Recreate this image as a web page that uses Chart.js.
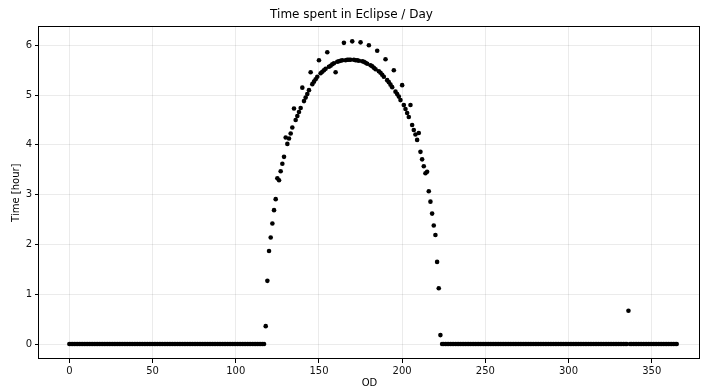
<!DOCTYPE html>
<html>
<head>
<meta charset="utf-8">
<script src="https://cdn.jsdelivr.net/npm/chart.js@4/dist/chart.umd.min.js"></script>
<style>
  html, body { margin: 0; padding: 0; background: #fff; }
  canvas { display: block; }
</style>
</head>
<body>
<canvas id="myChart" width="704" height="391"></canvas>
<script>
// day 0 .. 365, hours in eclipse per day
const firstDay = 0
const eclipseHours = [
  0, 0, 0, 0, 0, 0, 0, 0, 0, 0, 0, 0, 0, 0, 0, 0, 0, 0, 0, 0,
  0, 0, 0, 0, 0, 0, 0, 0, 0, 0, 0, 0, 0, 0, 0, 0, 0, 0, 0, 0,
  0, 0, 0, 0, 0, 0, 0, 0, 0, 0, 0, 0, 0, 0, 0, 0, 0, 0, 0, 0,
  0, 0, 0, 0, 0, 0, 0, 0, 0, 0, 0, 0, 0, 0, 0, 0, 0, 0, 0, 0,
  0, 0, 0, 0, 0, 0, 0, 0, 0, 0, 0, 0, 0, 0, 0, 0, 0, 0, 0, 0,
  0, 0, 0, 0, 0, 0, 0, 0, 0, 0, 0, 0, 0, 0, 0, 0, 0, 0,
  // 118 - 223: eclipse season
  0.36, 1.27, 1.87, 2.14, 2.42, 2.69, 2.91, 3.33, 3.29, 3.47,
  3.62, 3.76, 4.15, 4.02, 4.13, 4.23, 4.35, 4.73, 4.50, 4.58,
  4.66, 4.74, 5.15, 4.88, 4.95, 5.02, 5.10, 5.46, 5.22, 5.27,
  5.32, 5.37, 5.70, 5.44, 5.47, 5.50, 5.53, 5.86, 5.57, 5.59,
  5.62, 5.64, 5.46, 5.67, 5.68, 5.69, 5.70, 6.05, 5.70, 5.71,
  5.71, 5.71, 6.08, 5.71, 5.70, 5.70, 5.69, 6.06, 5.68, 5.67,
  5.65, 5.63, 6.00, 5.60, 5.58, 5.55, 5.52, 5.89, 5.48, 5.45,
  5.41, 5.37, 5.72, 5.30, 5.26, 5.21, 5.16, 5.50, 5.07, 5.02,
  4.97, 4.90, 5.20, 4.80, 4.72, 4.64, 4.56, 4.80, 4.40, 4.30,
  4.21, 4.10, 4.24, 3.86, 3.71, 3.57, 3.43, 3.46, 3.07, 2.86,
  2.62, 2.38, 2.19, 1.65, 1.12, 0.18,
  // 224 - 365
  0, 0, 0, 0, 0, 0, 0, 0, 0, 0, 0, 0, 0, 0, 0, 0, 0, 0, 0, 0,
  0, 0, 0, 0, 0, 0, 0, 0, 0, 0, 0, 0, 0, 0, 0, 0, 0, 0, 0, 0,
  0, 0, 0, 0, 0, 0, 0, 0, 0, 0, 0, 0, 0, 0, 0, 0, 0, 0, 0, 0,
  0, 0, 0, 0, 0, 0, 0, 0, 0, 0, 0, 0, 0, 0, 0, 0, 0, 0, 0, 0,
  0, 0, 0, 0, 0, 0, 0, 0, 0, 0, 0, 0, 0, 0, 0, 0, 0, 0, 0, 0,
  0, 0, 0, 0, 0, 0, 0, 0, 0, 0, 0, 0,
  0.67,
  0, 0, 0, 0, 0, 0, 0, 0, 0, 0, 0, 0, 0, 0, 0, 0, 0, 0, 0, 0,
  0, 0, 0, 0, 0, 0, 0, 0, 0
]
const xTicks = [0, 50, 100, 150, 200, 250, 300, 350]
const yTicks = [0, 1, 2, 3, 4, 5, 6]

const points = eclipseHours.map((h, i) => ({ x: firstDay + i, y: h }))

Chart.defaults.font.family = "'DejaVu Sans', sans-serif"
Chart.defaults.color = '#111'

// full black frame round the plot area, like matplotlib spines
const frame = {
  id: 'frame',
  afterDraw(chart) {
    const { ctx, chartArea: a } = chart
    ctx.save()
    ctx.strokeStyle = '#000'
    ctx.lineWidth = 1
    ctx.strokeRect(Math.round(a.left) - 0.5, Math.round(a.top) + 0.5,
      Math.round(a.right - a.left), Math.round(a.bottom - a.top) - 1)
    ctx.restore()
  },
}

const ctx = document.getElementById('myChart').getContext('2d')
const myChart = new Chart(ctx, {
  type: 'scatter',
  data: {
    datasets: [
      {
        data: points,
        backgroundColor: '#000',
        borderWidth: 0,
        pointRadius: 2.3,
      },
    ],
  },
  options: {
    responsive: false,
    animation: false,
    layout: { padding: { right: 1 } },
    plugins: {
      legend: { display: false },
      tooltip: { enabled: false },
      title: {
        display: true,
        text: 'Time spent in Eclipse / Day',
        color: '#000',
        font: { size: 12, weight: 'normal' },
        padding: { top: 8, bottom: 4 },
      },
    },
    scales: {
      x: {
        type: 'linear',
        min: -18.25,
        max: 379,
        afterFit: (s) => { s.height = 32 },
        afterBuildTicks: (s) => { s.ticks = xTicks.map((v) => ({ value: v })) },
        ticks: { font: { size: 10 }, padding: 2, maxRotation: 0 },
        grid: { color: 'rgba(0,0,0,0.08)', tickColor: '#000', tickLength: 4 },
        border: { display: false },
        title: {
          display: true,
          text: 'OD',
          color: '#000',
          font: { size: 10 },
          padding: { top: 0, bottom: 2 },
        },
      },
      y: {
        min: -0.3,
        max: 6.38,
        afterFit: (s) => { s.width = 39 },
        afterBuildTicks: (s) => { s.ticks = yTicks.map((v) => ({ value: v })) },
        ticks: { font: { size: 10 }, padding: 3 },
        grid: { color: 'rgba(0,0,0,0.08)', tickColor: '#000', tickLength: 4 },
        border: { display: false },
        title: {
          display: true,
          text: 'Time [hour]',
          color: '#000',
          font: { size: 10 },
          padding: { top: 10, bottom: 0 },
        },
      },
    },
  },
  plugins: [frame],
})
</script>
</body>
</html>
